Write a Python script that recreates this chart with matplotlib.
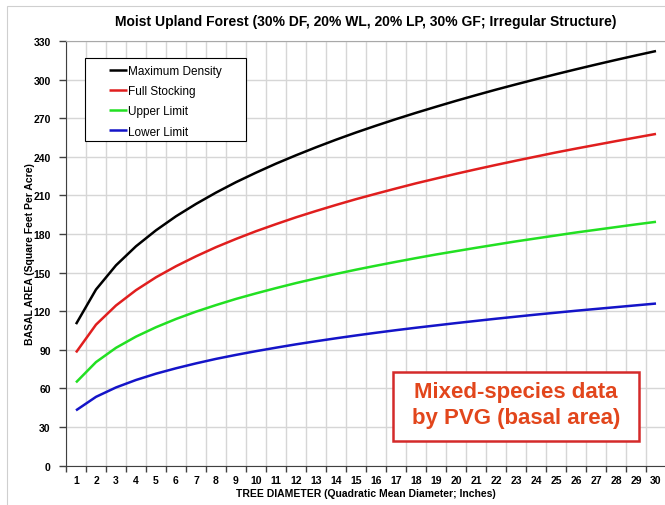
import numpy as np
import matplotlib
matplotlib.use('Agg')
import matplotlib.pyplot as plt
from matplotlib.patches import Rectangle

plt.rcParams['font.family'] = ['Liberation Sans', 'DejaVu Sans']

# values (basal area, sq ft per acre)
diameter = list(range(1, 31))
max_density = [110.0, 136.9, 155.7, 170.5, 182.9, 193.8, 203.4, 212.2, 220.3, 227.7,
               234.7, 241.2, 247.4, 253.3, 258.9, 264.2, 269.3, 274.2, 278.9, 283.5,
               287.9, 292.2, 296.3, 300.3, 304.2, 308.0, 311.7, 315.3, 318.8, 322.2]
full_stocking = [88.0, 109.6, 124.5, 136.4, 146.4, 155.0, 162.7, 169.8, 176.2, 182.2,
                 187.7, 193.0, 197.9, 202.6, 207.1, 211.3, 215.4, 219.4, 223.1, 226.8,
                 230.3, 233.7, 237.0, 240.2, 243.4, 246.4, 249.3, 252.2, 255.0, 257.8]
upper_limit = [64.7, 80.5, 91.6, 100.3, 107.6, 114.0, 119.7, 124.8, 129.6, 133.9,
               138.0, 141.9, 145.5, 149.0, 152.3, 155.4, 158.4, 161.3, 164.1, 166.7,
               169.3, 171.8, 174.3, 176.6, 178.9, 181.2, 183.3, 185.4, 187.5, 189.5]
lower_limit = [43.0, 53.5, 60.8, 66.6, 71.5, 75.7, 79.5, 83.0, 86.1, 89.0,
               91.7, 94.3, 96.7, 99.0, 101.2, 103.3, 105.3, 107.2, 109.0, 110.8,
               112.5, 114.2, 115.8, 117.4, 118.9, 120.4, 121.8, 123.2, 124.6, 126.0]
y_ticks = list(range(0, 331, 30))

fig = plt.figure(figsize=(6.65, 5.06), dpi=100)
ax = fig.add_axes([66 / 665, 1 - 466.7 / 506, 600 / 665, 424.7 / 506])

# outer chart border (Excel chart area)
fig.patches.append(Rectangle((7 / 665, -0.01), 1.0, 1.01 - 7 / 506, transform=fig.transFigure,
                             fill=False, edgecolor='#cfcfcf', linewidth=0.8))

line_kw = dict(lw=1.8, solid_joinstyle='round', solid_capstyle='butt')
ax.plot(diameter, max_density, color='black', label='Maximum Density', **line_kw)
ax.plot(diameter, full_stocking, color='#e01e1e', label='Full Stocking', **line_kw)
ax.plot(diameter, upper_limit, color='#22e022', label='Upper Limit', **line_kw)
ax.plot(diameter, lower_limit, color='#1414c8', label='Lower Limit', **line_kw)

ax.set_xlim(0.5, 30.5)
ax.set_ylim(0, 330)
ax.set_xticks(diameter)
ax.set_xticks(np.arange(0.5, 31, 1), minor=True)
ax.set_yticks(y_ticks)
ax.tick_params(axis='x', which='major', length=0, pad=7, labelsize=7.5)
ax.tick_params(axis='x', which='minor', length=4, direction='out', width=1, color='#404040')
ax.tick_params(axis='y', length=5, direction='out', width=1, pad=6, labelsize=7.5, color='#404040')
for lbl in ax.get_xticklabels() + ax.get_yticklabels():
    lbl.set_fontweight('bold')

ax.grid(True, which='minor', axis='x', color='#d6d6d6', lw=1)
ax.grid(True, which='major', axis='y', color='#d6d6d6', lw=1)
ax.set_axisbelow(True)

ax.spines['left'].set_color('#404040')
ax.spines['bottom'].set_color('#404040')
ax.spines['top'].set_color('#a8a8a8')
ax.spines['right'].set_visible(False)

ax.set_xlabel('TREE DIAMETER (Quadratic Mean Diameter; Inches)', fontsize=7.5,
              fontweight='bold', labelpad=2)
ax.set_ylabel('BASAL AREA (Square Feet Per Acre)', fontsize=7.5, fontweight='bold')
ax.yaxis.set_label_coords((35 - 66) / 600, 0.5)
fig.text(366 / 665, 1 - 22 / 506, 'Moist Upland Forest (30% DF, 20% WL, 20% LP, 30% GF; Irregular Structure)',
         ha='center', va='center', fontsize=10, fontweight='bold')

# legend: frame drawn separately so it can be wider than the entries
ax.add_patch(Rectangle((19 / 600, 0.7645), 161 / 600, 0.1954, transform=ax.transAxes,
                       facecolor='white', edgecolor='black', lw=0.8, zorder=4))
leg = ax.legend(loc='upper left', bbox_to_anchor=(43 / 600, 0.944), borderaxespad=0, borderpad=0,
                fontsize=8.5, handlelength=1.5, handletextpad=0.1, labelspacing=0.7,
                frameon=False)
leg.set_zorder(5)

# annotation box
ax.add_patch(Rectangle((0.5445, 0.058), 0.411, 0.1625, transform=ax.transAxes,
                       facecolor='white', edgecolor='#d42a2a', lw=1.8, zorder=5))
ax.text(0.75, 0.144, 'Mixed-species data\nby PVG (basal area)', transform=ax.transAxes,
        ha='center', va='center', fontsize=16, fontweight='bold', color='#e2461c',
        linespacing=1.3, zorder=6)

fig.savefig('out.png', dpi=100)
